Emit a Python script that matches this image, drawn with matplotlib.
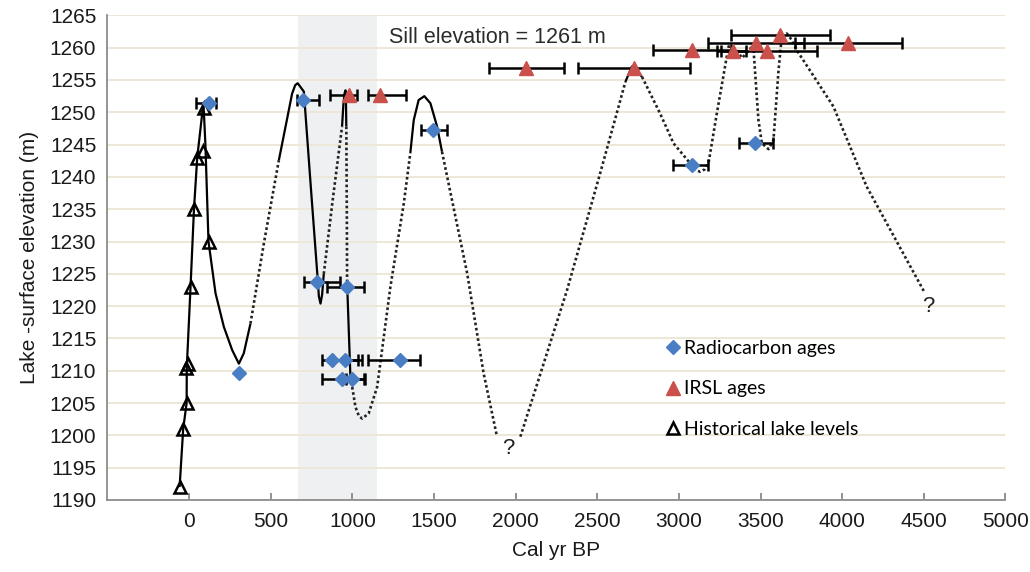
import numpy as np
import matplotlib
matplotlib.use("Agg")
import matplotlib.pyplot as plt
from matplotlib.lines import Line2D

# --- data ---
# radiocarbon ages (cal yr BP), lake elevation (m), asymmetric age ranges
rc_age = [121, 305, 699, 785, 968, 876, 958, 1290, 937, 999, 1494, 3080, 3467]
rc_elev = [1251.5, 1209.7, 1251.9, 1223.8, 1223.0, 1211.7, 1211.7, 1211.7,
           1208.7, 1208.7, 1247.2, 1241.8, 1245.2]
rc_lo = [81, 0, 37, 82, 122, 61, 78, 196, 122, 40, 73, 117, 96]
rc_hi = [41, 0, 95, 138, 102, 159, 102, 123, 133, 81, 86, 101, 112]

# IRSL ages
ir_age = [978, 1168, 2066, 2723, 3079, 3334, 3473, 3538, 3622, 4038]
ir_elev = [1252.7, 1252.7, 1256.8, 1256.8, 1259.7, 1259.5, 1260.8, 1259.5, 1262.0, 1260.8]
ir_lo = [116, 74, 231, 341, 238, 75, 292, 306, 304, 330]
ir_hi = [51, 163, 232, 342, 238, 75, 292, 306, 304, 327]

# historical lake levels
hist_age = [-58, -36, -15, -21, -7, 9, 30, 50, 83, 119, 91]
hist_elev = [1192, 1201, 1205, 1210.5, 1211, 1223, 1235, 1243, 1244, 1230, 1250.6]

# interpreted lake-level curve, solid = constrained, dotted = inferred
solid_segments = [
    ([-58, -36, -15, -14, 9, 30, 50, 88, 100, 119, 162, 213, 264, 305, 335, 376],
     [1192, 1201, 1205, 1210.5, 1223, 1235, 1243, 1251.5, 1245, 1230, 1222, 1216.8, 1213.2, 1211.1, 1212.7, 1217.3]),
    ([550, 591, 631, 650, 665, 680, 703, 744, 785, 795, 805, 815, 825],
     [1242.6, 1247.8, 1252.9, 1254.2, 1254.5, 1254.0, 1253.2, 1239, 1225.1, 1221.5, 1220.4, 1221.8, 1225]),
    ([937, 945, 952, 958, 961, 963],
     [1247.8, 1251.2, 1252.9, 1253.4, 1251.5, 1247.8]),
    ([968, 988], [1223.5, 1209.1]),
    ([1355, 1376, 1406, 1441, 1478, 1519, 1549],
     [1243.7, 1248.8, 1251.9, 1252.5, 1251.4, 1247.8, 1243.9]),
    ([2672, 2712, 2774], [1254.7, 1257.1, 1255.5]),
]
dotted_segments = [
    ([376, 458, 550], [1217.3, 1229.7, 1242.6]),
    ([825, 880, 937], [1225, 1236.5, 1247.8]),
    ([963, 966, 968], [1247.8, 1235, 1223.5]),
    ([988, 999, 1019, 1040, 1060, 1100, 1152, 1233, 1315, 1355],
     [1209.1, 1207.5, 1204.4, 1203.0, 1202.6, 1203.4, 1207.5, 1223, 1235.9, 1243.7]),
    ([1549, 1703, 1804, 1886], [1243.9, 1225.1, 1209.6, 1199.8]),
    ([2029, 2315, 2518, 2672], [1199.8, 1222.5, 1240.6, 1254.7]),
    ([2774, 2885, 2967, 3069, 3100, 3130, 3160, 3181, 3232, 3304, 3355, 3386, 3412,
      3455, 3487, 3508, 3549, 3579, 3610, 3630, 3661, 3691, 3722, 3946, 4150, 4507],
     [1255.5, 1249.8, 1245.2, 1242.1, 1241.1, 1240.8, 1241.2, 1242.1, 1249.8, 1260.2, 1259.6, 1258.4, 1259.1,
      1260.4, 1248.8, 1245.2, 1244.3, 1245.7, 1256.5, 1261.7, 1262.2, 1261.2, 1259.6, 1250.9, 1238.5, 1222]),
]
question_marks = [(1957, 1198.0), (4528, 1220.0)]
shade_span = (665, 1150)

x_ticks = list(range(0, 5001, 500))
y_ticks = list(range(1190, 1266, 5))

plt.rcParams['font.family'] = ['Liberation Sans', 'DejaVu Sans']

fig = plt.figure(figsize=(10.3, 5.72), dpi=100)
ax = fig.add_axes([0.1043, 0.1259, 0.8719, 0.8472])

ax.axvspan(*shade_span, color='#EEF0F1', zorder=0.2, lw=0)
ax.set_axisbelow(True)
ax.yaxis.grid(True, color='#ECE7D6', lw=1.4, zorder=0.5)

for xs, ys in solid_segments:
    ax.plot(xs, ys, color='black', lw=1.6, zorder=3, solid_capstyle='butt')
for xs, ys in dotted_segments:
    ax.plot(xs, ys, color='#222222', lw=1.9, ls=(0, (1, 1)), zorder=3)

ax.plot(hist_age, hist_elev, ls='none', marker='^', ms=9, mfc='none', mec='black',
        mew=1.8, zorder=4)

ax.errorbar(rc_age, rc_elev, xerr=[rc_lo, rc_hi], fmt='none', ecolor='black',
            elinewidth=1.8, capsize=4.5, capthick=1.8, zorder=5)
ax.errorbar(ir_age, ir_elev, xerr=[ir_lo, ir_hi], fmt='none', ecolor='black',
            elinewidth=1.8, capsize=4.5, capthick=1.8, zorder=5)
ax.plot(rc_age, rc_elev, ls='none', marker='D', ms=7.5, color='#4A7EC4', zorder=6)
ax.plot(ir_age, ir_elev, ls='none', marker='^', ms=10.5, color='#C9504B', zorder=6)

for qx, qy in question_marks:
    ax.text(qx, qy, '?', fontsize=16, ha='center', va='center', color='#222222')
ax.text(1225, 1261.6, 'Sill elevation = 1261 m', fontsize=15.5, ha='left', va='center',
        color='#2b2b2b')

ax.set_xlim(-500, 5000)
ax.set_ylim(1190, 1265)
ax.set_xticks(x_ticks)
ax.set_yticks(y_ticks)
ax.tick_params(axis='x', direction='in', length=5, width=1.2, color='#808080',
               labelsize=15, pad=9, labelcolor='#1a1a1a')
ax.tick_params(axis='y', length=0, labelsize=15, pad=8, labelcolor='#1a1a1a')
for s in ['top', 'right']:
    ax.spines[s].set_visible(False)
for s in ['left', 'bottom']:
    ax.spines[s].set_color('#8c8c8c')
    ax.spines[s].set_linewidth(1.3)

ax.set_xlabel('Cal yr BP', fontsize=15, labelpad=7, color='#1a1a1a')
ax.set_ylabel('Lake -surface elevation (m)', fontsize=15, labelpad=8, color='#1a1a1a')

handles = [
    Line2D([], [], ls='none', marker='D', ms=7.5, color='#4A7EC4'),
    Line2D([], [], ls='none', marker='^', ms=10.5, color='#C9504B'),
    Line2D([], [], ls='none', marker='^', ms=9, mfc='none', mec='black', mew=1.8),
]
ax.legend(handles, ['Radiocarbon ages', 'IRSL ages', 'Historical lake levels'],
          loc='upper left', bbox_to_anchor=(0.612, 0.35), frameon=False,
          handlelength=0.6, handletextpad=0.3, labelspacing=1.2, borderpad=0,
          prop={'family': ['Lato', 'DejaVu Sans'], 'size': 14})

plt.savefig('out.png', dpi=100)
plt.close()
